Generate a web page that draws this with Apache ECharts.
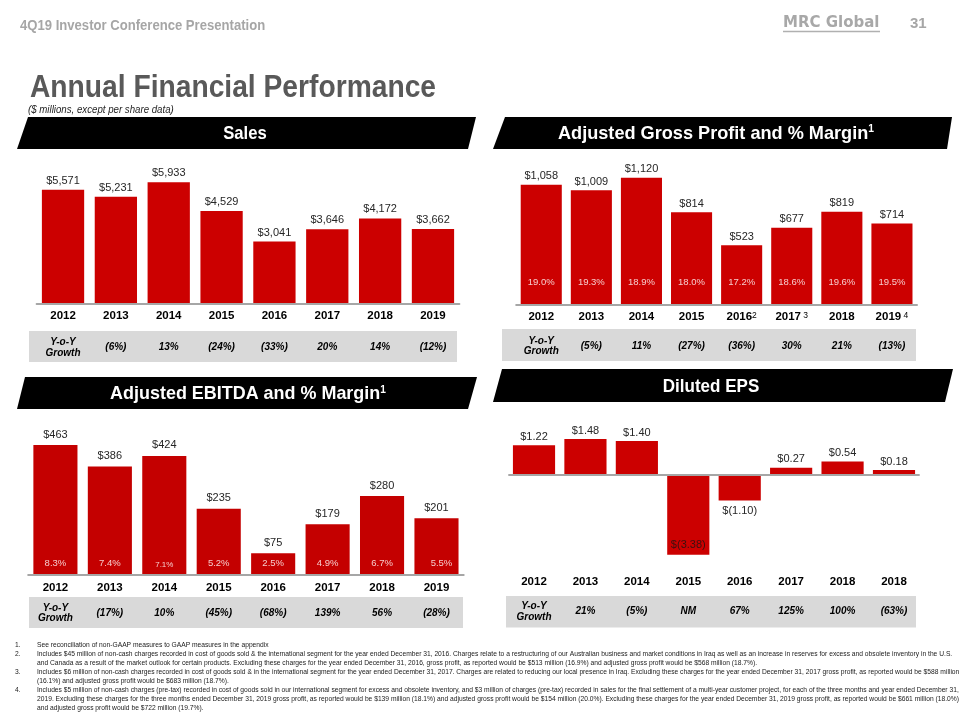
<!DOCTYPE html>
<html><head><meta charset="utf-8">
<script src="https://cdn.jsdelivr.net/npm/echarts@6/dist/echarts.min.js"></script>
<style>html,body{margin:0;padding:0;background:#fff}#c{width:960px;height:720px}</style>
</head><body><div id="c"></div>
<script>
// ---------- data ----------
const years = ['2012','2013','2014','2015','2016','2017','2018','2019'];
const epsYears = ['2012','2013','2014','2015','2016','2017','2018','2018'];
const gpYearNotes = ['','','','','2',' 3','',' 4'];
const sales = [5571,5231,5933,4529,3041,3646,4172,3662];
const salesGrowth = ['Y-o-Y\nGrowth','(6%)','13%','(24%)','(33%)','20%','14%','(12%)'];
const grossProfit = [1058,1009,1120,814,523,677,819,714];
const gpMargin = ['19.0%','19.3%','18.9%','18.0%','17.2%','18.6%','19.6%','19.5%'];
const gpGrowth = ['Y-o-Y\nGrowth','(5%)','11%','(27%)','(36%)','30%','21%','(13%)'];
const ebitda = [463,386,424,235,75,179,280,201];
const ebitdaMargin = ['8.3%','7.4%','7.1%','5.2%','2.5%','4.9%','6.7%','5.5%'];
const ebitdaGrowth = ['Y-o-Y\nGrowth','(17%)','10%','(45%)','(68%)','139%','56%','(28%)'];
const eps = [1.22,1.48,1.40,-3.38,-1.10,0.27,0.54,0.18];
const epsGrowth = ['Y-o-Y\nGrowth','21%','(5%)','NM','67%','125%','100%','(63%)'];
const footnoteNums = ['1.','2.','','3.','','4.','',''];
const footnoteLines = [
 'See reconciliation of non-GAAP measures to GAAP measures in the appendix',
 'Includes $45 million of non-cash charges recorded in cost of goods sold & the international segment for the year ended December 31, 2016. Charges relate to a restructuring of our Australian business and market conditions in Iraq as well as an increase in reserves for excess and obsolete inventory in the U.S.',
 'and Canada as a result of the market outlook for certain products. Excluding these charges for the year ended December 31, 2016, gross profit, as reported would be $513 million (16.9%) and adjusted gross profit would be $568 million (18.7%).',
 'Includes $6 million of non-cash charges recorded in cost of goods sold & in the international segment for the year ended December 31, 2017. Charges are related to reducing our local presence in Iraq. Excluding these charges for the year ended December 31, 2017 gross profit, as reported would be $588 million',
 '(16.1%) and adjusted gross profit would be $683 million (18.7%).',
 'Includes $5 million of non-cash charges (pre-tax) recorded in cost of goods sold in our international segment for excess and obsolete inventory, and $3 million of charges (pre-tax) recorded in sales for the final settlement of a multi-year customer project, for each of the three months and year ended December 31,',
 '2019. Excluding these charges for the three months ended December 31, 2019 gross profit, as reported would be $139 million (18.1%) and adjusted gross profit would be $154 million (20.0%). Excluding these charges for the year ended December 31, 2019 gross profit, as reported would be $661 million (18.0%)',
 'and adjusted gross profit would be $722 million (19.7%).'
];

// ---------- styles ----------
const SANS = '"Liberation Sans",Arial,sans-serif';
const RED = '#cc0000';
const AXIS = '#a6a6a6';

function yearAxis(grid, data, margin, onZeroLine, rich) {
  return {
    type: 'category', gridIndex: grid, data: data, position: 'bottom', z: 5,
    axisLine: { show: onZeroLine, onZero: onZeroLine, lineStyle: { color: AXIS, width: 2 } },
    axisTick: { show: false },
    axisLabel: Object.assign({ interval: 0, margin: margin, color: '#000', fontWeight: 'bold',
      fontSize: 11.5, fontFamily: SANS }, rich || {})
  };
}
function growthAxis(grid, data, offset) {
  return {
    type: 'category', gridIndex: grid, data: data, position: 'bottom', offset: offset, z: 5,
    axisLine: { show: false, onZero: false }, axisTick: { show: false },
    axisLabel: { interval: 0, margin: 0, verticalAlign: 'middle', color: '#000', fontWeight: 'bold',
      fontStyle: 'italic', fontSize: 10, lineHeight: 10.5, fontFamily: SANS }
  };
}
const valueLabel = (fmt, dist) => ({ show: true, position: 'top', distance: dist, formatter: fmt,
  fontFamily: SANS, fontSize: 11, color: '#262626' });
const money = p => '$' + Number(p.value).toLocaleString('en-US');
const epsFmt = p => p.value < 0 ? '$(' + Math.abs(p.value).toFixed(2) + ')' : '$' + p.value.toFixed(2);

const gpRich = {
  formatter: (v, i) => gpYearNotes[i] ? v + '{s|' + gpYearNotes[i] + '}' : v,
  rich: { s: { fontSize: 8.5, fontWeight: 'normal', verticalAlign: 'top', color: '#000', fontFamily: SANS } }
};

// ---------- graphics ----------
const graphics = [];
function txt(x, y, text, font, color, sx) {
  graphics.push({ type: 'text', x: x, y: y, silent: true, scaleX: sx || 1,
    style: { text: text, font: font, fill: color, align: 'left', verticalAlign: 'middle' } });
}
txt(20, 26.5, '4Q19 Investor Conference Presentation', 'bold 14px ' + SANS, '#a6a6a6', 0.935);
txt(783, 23, 'MRC Global', 'bold 15px "DejaVu Sans"', '#a8a8a8');
graphics.push({ type: 'line', silent: true, shape: { x1: 783, y1: 31.5, x2: 880, y2: 31.5 }, style: { stroke: '#b0b0b0', lineWidth: 1.5 } });
txt(910, 24, '31', 'bold 15px ' + SANS, '#a6a6a6');
txt(30, 88, 'Annual Financial Performance', 'bold 31px ' + SANS, '#595959', 0.91);
txt(28, 109.5, '($ millions, except per share data)', 'italic 11px ' + SANS, '#262626', 0.88);

function banner(pts, cx, cy, text, sx) {
  graphics.push({ type: 'polygon', silent: true, shape: { points: pts }, style: { fill: '#000' } });
  graphics.push({ type: 'text', x: cx, y: cy, silent: true, scaleX: sx, style: { text: text, font: 'bold 18.5px ' + SANS,
    fill: '#fff', align: 'center', verticalAlign: 'middle',
    rich: { s: { fontSize: 10.5, fontWeight: 'bold', fill: '#fff', verticalAlign: 'top', fontFamily: SANS } } } });
}
banner([[28,117],[476,117],[468,149],[17,149]], 245, 133.5, 'Sales', 0.9);
banner([[505,117],[952,117],[947,149],[493,149]], 716, 133.5, 'Adjusted Gross Profit and % Margin{s|1}', 0.98);
banner([[25,377],[477,377],[468,409],[17,409]], 248, 394, 'Adjusted EBITDA and % Margin{s|1}', 0.97);
banner([[502,369],[953,369],[945,402],[493,402]], 711, 387, 'Diluted EPS', 0.92);

function box(x, y, w, h) {
  graphics.push({ type: 'rect', silent: true, z: -1, shape: { x: x, y: y, width: w, height: h }, style: { fill: '#d9d9d9' } });
}
box(29, 331, 428, 31);
box(502, 329, 414, 32);
box(29, 597, 434, 31);
box(506, 596, 410, 31.5);

footnoteLines.forEach((line, i) => {
  const y = 645 + i * 9;
  if (footnoteNums[i]) txt(15, y, footnoteNums[i], '6.7px ' + SANS, '#1a1a1a');
  txt(37, y, line, '6.7px ' + SANS, '#1a1a1a');
});

// ---------- chart ----------
const chart = echarts.init(document.getElementById('c'), null, { renderer: 'canvas' });
chart.setOption({
  backgroundColor: '#fff',
  animation: false,
  grid: [
    { left: 36.6, width: 422.8, top: 160.4, height: 143.6 },
    { left: 516.2, width: 400.8, top: 157.4, height: 146.9 },
    { left: 28.2, width: 435.5, top: 434.7, height: 139.6 },
    { left: 508.3, width: 411.4, top: 426.7, height: 130.9 }
  ],
  xAxis: [
    yearAxis(0, years, 6, true), growthAxis(0, salesGrowth, 43.5),
    yearAxis(1, years, 6.5, true, gpRich), growthAxis(1, gpGrowth, 41.7),
    yearAxis(2, years, 8, true), growthAxis(2, ebitdaGrowth, 39),
    yearAxis(3, epsYears, 18.5, false), growthAxis(3, epsGrowth, 54.1)
  ],
  yAxis: [
    { gridIndex: 0, type: 'value', min: 0, max: 7000, show: false },
    { gridIndex: 1, type: 'value', min: 0, max: 1300, show: false },
    { gridIndex: 2, type: 'value', min: 0, max: 500, show: false },
    { gridIndex: 3, type: 'value', min: -3.5, max: 2, show: false }
  ],
  series: [
    { type: 'bar', xAxisIndex: 0, yAxisIndex: 0, data: sales, barWidth: '80%',
      itemStyle: { color: RED }, label: valueLabel(money, 3.5) },
    { type: 'bar', xAxisIndex: 2, yAxisIndex: 1, data: grossProfit, barWidth: '82%', barGap: '-100%',
      itemStyle: { color: RED }, label: valueLabel(money, 3) },
    { type: 'bar', xAxisIndex: 2, yAxisIndex: 1, data: grossProfit, barWidth: '82%', barGap: '-100%',
      itemStyle: { color: 'rgba(0,0,0,0)' }, silent: true,
      label: { show: true, position: 'insideBottom', distance: 17, formatter: p => gpMargin[p.dataIndex],
        fontFamily: SANS, fontSize: 9.5, color: '#f6cccc' } },
    { type: 'bar', xAxisIndex: 4, yAxisIndex: 2, data: ebitda, barWidth: '81%', barGap: '-100%',
      itemStyle: { color: '#c40000' }, label: valueLabel(money, 5) },
    { type: 'bar', xAxisIndex: 4, yAxisIndex: 2, barWidth: '81%', barGap: '-100%',
      data: ebitda.map((v, i) => ({ value: v, label: i === 2 ? { fontSize: 8 } : (i === 7 ? { offset: [5, 0] } : {}) })),
      itemStyle: { color: 'rgba(0,0,0,0)' }, silent: true,
      label: { show: true, position: 'insideBottom', distance: 5.5, formatter: p => ebitdaMargin[p.dataIndex],
        fontFamily: SANS, fontSize: 9.5, color: '#f6cccc' } },
    { type: 'bar', xAxisIndex: 6, yAxisIndex: 3, barWidth: '82%',
      data: eps.map(v => ({ value: v, label: v < 0 ? (v < -2 ? { position: 'insideBottom', distance: 4, color: '#3b1010' } : { position: 'bottom', distance: 5 }) : {} })),
      itemStyle: { color: RED }, label: valueLabel(epsFmt, 3),
      markLine: { silent: true, symbol: 'none', label: { show: false }, animation: false,
        lineStyle: { color: AXIS, width: 2, type: 'solid' }, data: [{ yAxis: 0 }] } }
  ],
  graphic: { elements: graphics }
});
</script></body></html>
